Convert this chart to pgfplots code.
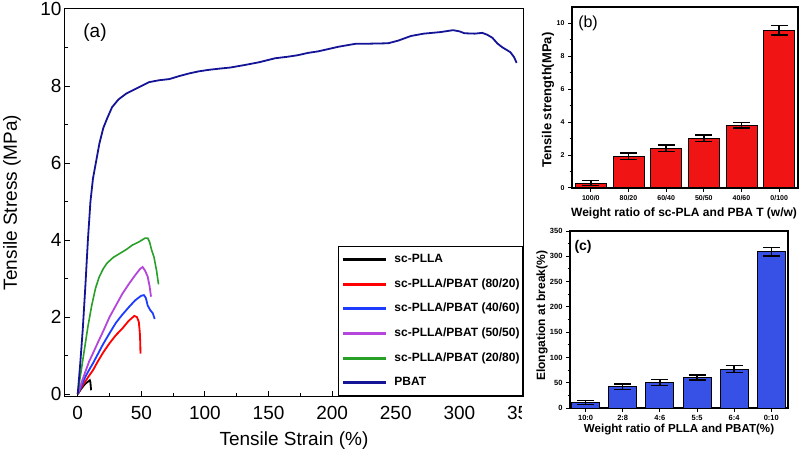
\documentclass[border=0pt]{standalone}
\usepackage{fontspec}
\setmainfont{Liberation Sans}
\usepackage{pgfplots}
\pgfplotsset{compat=1.18}
\definecolor{pbat}{RGB}{20,20,150}
\definecolor{cred}{RGB}{255,0,0}
\definecolor{cblue}{RGB}{30,60,255}
\definecolor{cpurple}{RGB}{180,70,220}
\definecolor{cgreen}{RGB}{40,160,40}
\definecolor{barred}{RGB}{240,20,20}
\definecolor{barblue}{RGB}{55,80,230}
\begin{document}
\begin{tikzpicture}
\useasboundingbox (0pt,0pt) rectangle (803pt,458pt);
% ---------------- panel (a)
\begin{axis}[
  at={(65pt,62pt)}, anchor=south west, width=458pt, height=387pt, scale only axis,
  xmin=-10, xmax=350, ymin=-0.05, ymax=10,
  xtick={0,50,...,350}, ytick={0,2,...,10},
  minor x tick num=1, minor y tick num=1,
  tick align=inside, xtick pos=left, ytick pos=left,
  major tick length=5pt, minor tick length=3pt,
  axis line style={line width=1pt},
  tick style={black, line width=1pt},
  /pgf/number format/assume math mode=true,
  ticklabel style={font=\fontsize{19}{22}\selectfont},
  xticklabel style={yshift=-7pt},
  xlabel={Tensile Strain (\%)},
  ylabel={Tensile Stress (MPa)},
  every axis x label/.style={at={(axis description cs:0.5,-0.114)}, anchor=center, font=\fontsize{19}{22}\selectfont},
  every axis y label/.style={at={(axis description cs:-0.116,0.5)}, rotate=90, anchor=center, font=\fontsize{19}{22}\selectfont},
  legend cell align=left,
  legend image code/.code={\draw[#1, line width=3pt] (0pt,0pt) -- (43pt,0pt);},
  legend style={at={(rel axis cs:1,0)}, anchor=south east, draw=black, line width=0.8pt,
    fill=white, inner xsep=3pt, inner ysep=7pt, row sep=12.6pt, column sep=7pt,
    font=\bfseries\fontsize{12}{14}\selectfont,
    nodes={inner sep=0pt, text height=9pt, text depth=3pt}},
]
\addplot[black, line width=1.8pt] coordinates {
(0,0) (2,0.1) (4,0.19) (6,0.27) (8,0.32) (9.5,0.36) (10,0.3) (10.5,0.1)};
\addlegendentry{sc-PLLA}
\addplot[cred, line width=1.8pt] coordinates {
(0,0) (3,0.18) (6,0.33) (9,0.48) (12,0.62) (16,0.86) (20,1.08) (25,1.32) (30,1.53)
(35,1.7) (40,1.9) (44.5,2.03) (46.5,2.0) (48,1.88) (48.8,1.6) (49.2,1.3) (49.3,1.05)};
\addlegendentry{sc-PLLA/PBAT (80/20)}
\addplot[cblue, line width=1.8pt] coordinates {
(0,0) (3,0.22) (6,0.45) (9,0.63) (12,0.8) (16,1.05) (20,1.3) (25,1.58) (30,1.85)
(35,2.06) (40,2.25) (45,2.43) (49.7,2.55) (52,2.57) (53.5,2.5) (55,2.3) (57,2.18)
(59,2.1) (60.5,1.95)};
\addlegendentry{sc-PLLA/PBAT (40/60)}
\addplot[cpurple, line width=1.8pt] coordinates {
(0,0) (3,0.3) (6,0.58) (9,0.85) (12,1.06) (16,1.35) (20,1.63) (25,2.0) (30,2.3)
(35,2.6) (40,2.85) (45,3.08) (49,3.25) (51,3.3) (53,3.2) (55,3.05) (56.5,2.8) (57.6,2.53)};
\addlegendentry{sc-PLLA/PBAT (50/50)}
\addplot[cgreen, line width=1.6pt] coordinates {
(0,0) (2,0.45) (5,1.1) (8,1.75) (11,2.3) (14,2.75) (17,3.05) (20,3.25) (23,3.4)
(28,3.55) (33,3.65) (38,3.75) (43,3.87) (48,3.95) (53,4.05) (55,4.05) (56.5,3.95)
(58,3.75) (60,3.55) (62,3.2) (63.5,2.85)};
\addlegendentry{sc-PLLA/PBAT (20/80)}
\addplot[pbat, line width=1.8pt] coordinates {
(0,0) (2,0.8) (4,1.7) (6,2.8) (8,4.0) (10,5.0) (12,5.6) (14.5,6.05) (17,6.5) (20,6.9)
(23,7.15) (27,7.45) (32,7.65) (38,7.8) (44,7.9) (50,8.0) (56,8.1) (64,8.15) (72,8.18)
(80,8.26) (88,8.33) (95,8.38) (103,8.42) (111,8.45) (120,8.48) (132,8.55) (143,8.62)
(155,8.72) (165,8.76) (173,8.8) (181,8.86) (189,8.9) (197,8.96) (205,9.02) (212,9.06)
(219,9.1) (230,9.1) (244,9.11) (252,9.18) (262,9.3) (272,9.36) (285,9.4) (295,9.45)
(300,9.42) (304,9.37) (312,9.36) (318,9.38) (322,9.33) (326,9.25) (330,9.1) (334,9.0)
(340,8.88) (343,8.75) (345,8.6)};
\addlegendentry{PBAT}
\node[font=\fontsize{19}{22}\selectfont] at (rel axis cs:0.0655,0.938) {(a)};
\end{axis}
\fill[white] (522pt,0pt) rectangle (803pt,58pt);
% ---------------- panel (b)
\begin{axis}[
  at={(572pt,270pt)}, anchor=south west, width=226pt, height=181pt, scale only axis,
  xmin=-0.5, xmax=5.5, ymin=0, ymax=11,
  xtick={0,...,5}, xticklabels={100/0,80/20,60/40,50/50,40/60,0/100},
  ytick={0,2,...,10}, minor y tick num=1,
  tick align=outside, xtick pos=left, ytick pos=left,
  major tick length=4pt, minor tick length=2.5pt,
  axis line style={line width=1.5pt},
  tick style={black, line width=1pt},
  /pgf/number format/assume math mode=true,
  ticklabel style={font=\bfseries\fontsize{7}{8}\selectfont},
  xlabel={Weight ratio of sc-PLA and PBA T (w/w)},
  ylabel={Tensile strength(MPa)},
  every axis x label/.style={at={(axis description cs:0.496,-0.138)}, anchor=center, font=\bfseries\fontsize{12}{14}\selectfont},
  every axis y label/.style={at={(axis description cs:-0.106,0.486)}, rotate=90, anchor=center, font=\bfseries\fontsize{13}{15}\selectfont},
]
\addplot[ybar, bar width=31pt, fill=barred, draw=black, line width=1pt,
  error bars/.cd, y dir=both, y explicit,
  error bar style={line width=1.5pt, black},
  error mark options={rotate=90, mark size=8.5pt, line width=1.5pt, black}]
coordinates {(0,0.3) +- (0,0.15) (1,1.93) +- (0,0.2) (2,2.42) +- (0,0.2)
(3,3.03) +- (0,0.2) (4,3.82) +- (0,0.16) (5,9.59) +- (0,0.28)};
\node[font=\fontsize{16}{18}\selectfont] at (rel axis cs:0.071,0.91) {(b)};
\end{axis}
% ---------------- panel (c)
\begin{axis}[
  at={(570pt,50pt)}, anchor=south west, width=218pt, height=177pt, scale only axis,
  xmin=-0.42, xmax=5.45, ymin=0, ymax=350,
  xtick={0,...,5}, xticklabels={10:0,2:8,4:6,5:5,6:4,0:10},
  ytick={0,50,...,350}, minor y tick num=1,
  tick align=outside, xtick pos=left, ytick pos=left,
  major tick length=4pt, minor tick length=2.5pt,
  axis line style={line width=1.5pt},
  tick style={black, line width=1pt},
  /pgf/number format/assume math mode=true,
  ticklabel style={font=\bfseries\fontsize{7.5}{8}\selectfont},
  xlabel={Weight ratio of PLLA and PBAT(\%)},
  ylabel={Elongation at break(\%)},
  every axis x label/.style={at={(axis description cs:0.5,-0.119)}, anchor=center, font=\bfseries\fontsize{11.6}{14}\selectfont},
  every axis y label/.style={at={(axis description cs:-0.128,0.52)}, rotate=90, anchor=center, font=\bfseries\fontsize{12}{14}\selectfont},
]
\addplot[ybar, bar width=28pt, fill=barblue, draw=black, line width=1pt,
  error bars/.cd, y dir=both, y explicit,
  error bar style={line width=1.5pt, black},
  error mark options={rotate=90, mark size=8.5pt, line width=1.5pt, black}]
coordinates {(0,11) +- (0,4) (1,42) +- (0,5) (2,50) +- (0,6)
(3,60) +- (0,5) (4,77) +- (0,7) (5,309) +- (0,8)};
\node[font=\bfseries\fontsize{14}{16}\selectfont] at (rel axis cs:0.06,0.91) {(c)};
\end{axis}
\end{tikzpicture}
\end{document}
